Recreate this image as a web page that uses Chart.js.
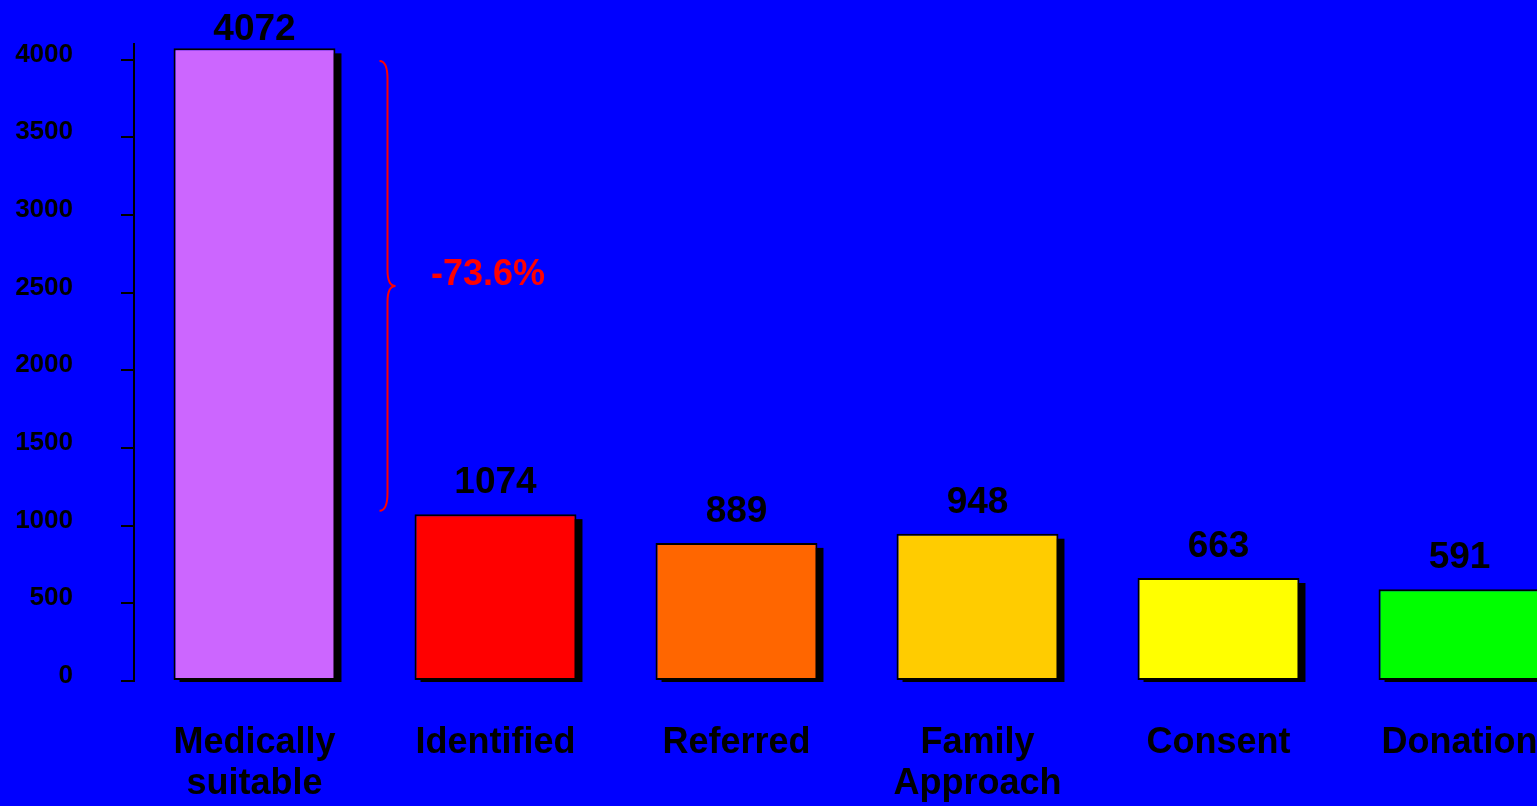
<!DOCTYPE html>
<html>
<head>
<meta charset="utf-8">
<script src="https://cdn.jsdelivr.net/npm/chart.js@4/dist/chart.umd.min.js"></script>
<style>
  html, body { margin: 0; padding: 0; background: #0000ff; overflow: hidden; }
  #wrap { width: 1580px; height: 806px; }
</style>
</head>
<body>
<div id="wrap"><canvas id="myChart" width="1580" height="806"></canvas></div>
<script>
// data
const categories = [['Medically', 'suitable'], 'Identified', 'Referred', ['Family', 'Approach'], 'Consent', 'Donation'];
const values = [4072, 1074, 889, 948, 663, 591];
const barColors = ['#cc66ff', '#ff0000', '#ff6600', '#ffcc00', '#ffff00', '#00ff00'];
const yTicks = [0, 500, 1000, 1500, 2000, 2500, 3000, 3500, 4000];
const dropText = '-73.6%';
const bracketRange = [3990, 1095];

const fontFam = '"Liberation Sans", Arial, sans-serif';

// black drop shadow behind the bars
const shadowPlugin = {
  id: 'shadow',
  beforeDatasetsDraw(chart) {
    const ctx = chart.ctx;
    const meta = chart.getDatasetMeta(0);
    ctx.save();
    ctx.fillStyle = 'black';
    meta.data.forEach(bar => {
      const left = bar.x - bar.width / 2;
      ctx.fillRect(left + 6, bar.y + 5, bar.width, bar.base - bar.y - 3);
    });
    ctx.restore();
  }
};

// numbers above the bars
const valuePlugin = {
  id: 'values',
  afterDatasetsDraw(chart) {
    const ctx = chart.ctx;
    const meta = chart.getDatasetMeta(0);
    ctx.save();
    ctx.font = 'bold 37px ' + fontFam;
    ctx.fillStyle = 'black';
    ctx.textAlign = 'center';
    ctx.textBaseline = 'alphabetic';
    meta.data.forEach((bar, i) => {
      const y = Math.max(bar.y - 21, 40);
      ctx.fillText(String(values[i]), bar.x, y);
    });
    ctx.restore();
  }
};

// red brace with the drop percentage
const bracePlugin = {
  id: 'brace',
  afterDraw(chart) {
    const ctx = chart.ctx;
    const xs = chart.scales.x, ys = chart.scales.y;
    const mid = (xs.getPixelForValue(0) + xs.getPixelForValue(1)) / 2;
    const xl = mid + 4.5, xv = mid + 12.5, xp = mid + 20.5;
    const yt = ys.getPixelForValue(bracketRange[0]);
    const yb = ys.getPixelForValue(bracketRange[1]);
    const ym = (yt + yb) / 2;
    ctx.save();
    ctx.strokeStyle = '#ff0000';
    ctx.lineWidth = 2;
    ctx.beginPath();
    ctx.moveTo(xl, yt);
    ctx.quadraticCurveTo(xv, yt, xv, yt + 18);
    ctx.lineTo(xv, ym - 16);
    ctx.quadraticCurveTo(xv, ym, xp, ym);
    ctx.quadraticCurveTo(xv, ym, xv, ym + 16);
    ctx.lineTo(xv, yb - 18);
    ctx.quadraticCurveTo(xv, yb, xl, yb);
    ctx.stroke();
    ctx.font = 'bold 36px ' + fontFam;
    ctx.fillStyle = '#ff0000';
    ctx.textAlign = 'left';
    ctx.textBaseline = 'alphabetic';
    ctx.fillText(dropText, mid + 56, ym - 1);
    ctx.restore();
  }
};

const data = {
  labels: categories,
  datasets: [{
    data: values,
    backgroundColor: barColors,
    borderColor: 'black',
    borderWidth: 2,
    borderSkipped: false,
    categoryPercentage: 1,
    barPercentage: 0.672
  }]
};

const config = {
  type: 'bar',
  data: data,
  options: {
    responsive: false,
    animation: false,
    layout: { padding: { top: 44, left: 0, right: 0, bottom: 0 } },
    plugins: {
      legend: { display: false },
      tooltip: { enabled: false }
    },
    scales: {
      x: {
        grid: { display: false, drawTicks: false },
        border: { display: false },
        ticks: {
          color: 'black',
          padding: 41,
          maxRotation: 0,
          autoSkip: false,
          font: { family: fontFam, size: 36, weight: 'bold', lineHeight: 1.15 }
        },
        afterFit(scale) { scale.height = 125; }
      },
      y: {
        min: 0,
        max: 4100,
        grid: { drawOnChartArea: false, color: 'black', lineWidth: 2, tickLength: 13 },
        border: { display: true, color: 'black', width: 2 },
        ticks: {
          color: 'black',
          padding: 48,
          labelOffset: -5,
          font: { family: fontFam, size: 26, weight: 'bold' },
          callback: v => String(v)
        },
        afterBuildTicks(scale) { scale.ticks = yTicks.map(v => ({ value: v })); },
        afterFit(scale) {
          scale.width = 134;
          scale.paddingTop = 0;
          scale.paddingBottom = 0;
        }
      }
    }
  },
  plugins: [shadowPlugin, valuePlugin, bracePlugin]
};

const myChart = new Chart(document.getElementById('myChart'), config);
</script>
</body>
</html>
